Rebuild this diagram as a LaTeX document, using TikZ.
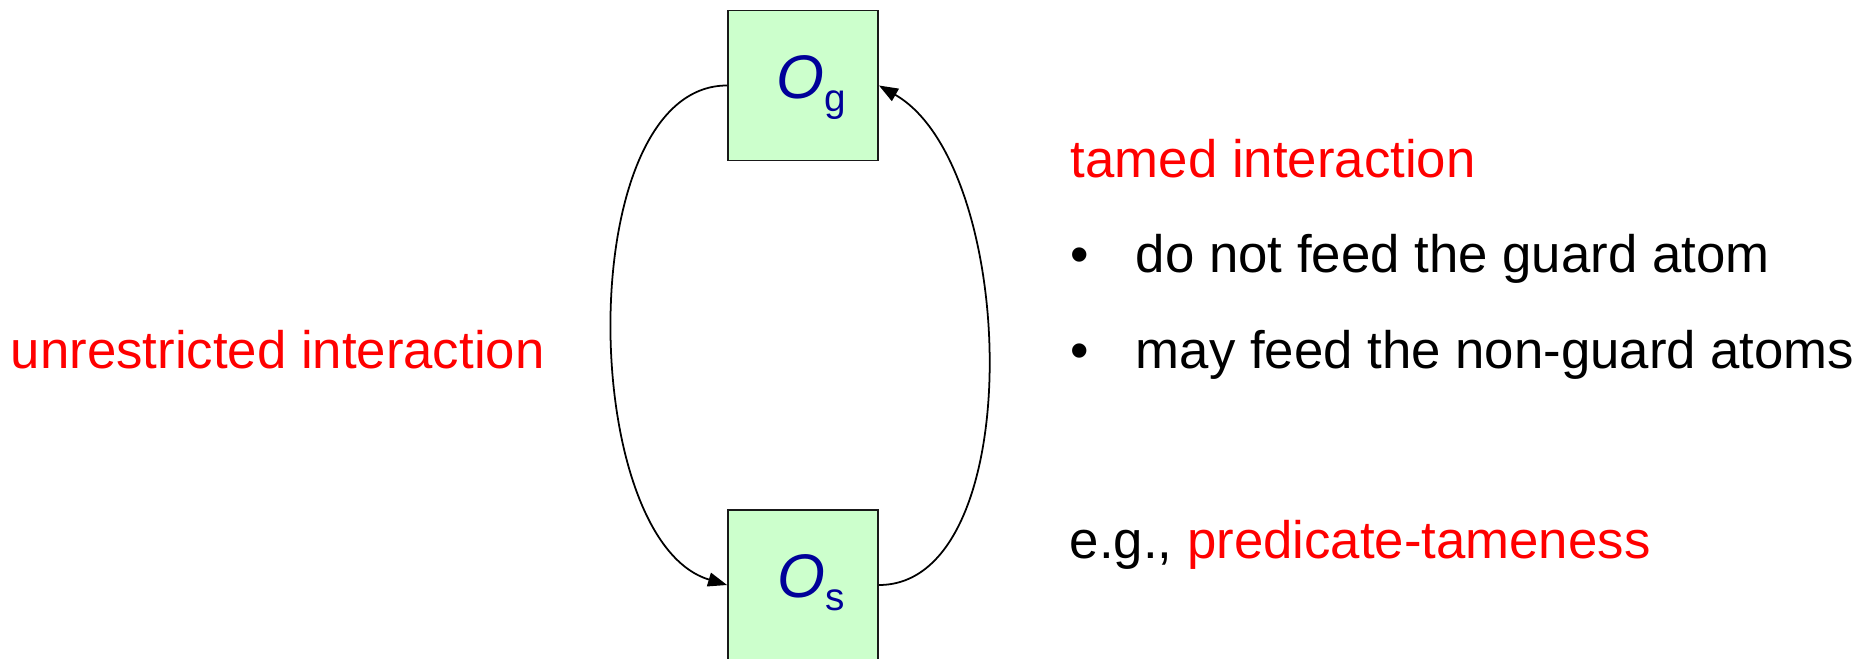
\documentclass[tikz,border=0pt]{standalone}
\usepackage{fontspec}
\setmainfont{Liberation Sans}
\usepackage{xcolor}
\usetikzlibrary{arrows.meta}

\definecolor{ontgreen}{RGB}{204,255,204}
\definecolor{ontblue}{RGB}{0,0,153}

% ontology symbol with a lowered index
\newcommand{\onto}[1]{\kern0.16cm{\fontsize{17.5}{20}\selectfont\itshape O}\raisebox{-0.13cm}[0pt][0.17cm]{\fontsize{11}{13}\selectfont #1}}

\begin{document}
\begin{tikzpicture}[x=0.01cm, y=-0.01cm, line width=0.5pt, font=\fontsize{15}{18}\selectfont]
    \tikzstyle{ont}=[draw=black!90, fill=ontgreen, text=ontblue, minimum size=1.5cm, inner sep=0pt]
    \tikzstyle{txt}=[anchor=base west, inner sep=0pt]
    \tikzstyle{link}=[-{Triangle[length=0.19cm,width=0.14cm]}]
\useasboundingbox (0,0) rectangle (1874,658);
    \node[ont] (og) at (803,85.5) {\onto{g}};
    \node[ont] (os) at (803,585) {\onto{s}};
    \draw[link] (og.west) .. controls +(-155,0) and +(-150,-45) .. (os.west);
    \draw[link] (os.east) .. controls +(150,0) and +(140,80) .. (og.east);
    \node[txt, text=red] (free) at (10,368) {unrestricted interaction};
    \node[txt, text=red] (tamed) at (1070,178) {tamed interaction};
\foreach \t [count=\i] in {do not feed the guard atom, may feed the non-guard atoms}{
    \node[txt] (dot\i) at (1070,178+95*\i) {•};
    \node[txt] (item\i) at (1135,178+95*\i) {\t};
      }
    \node[txt] (eg) at (1069,558) {e.g., \textcolor{red}{predicate-tameness}};
\end{tikzpicture}
\end{document}
